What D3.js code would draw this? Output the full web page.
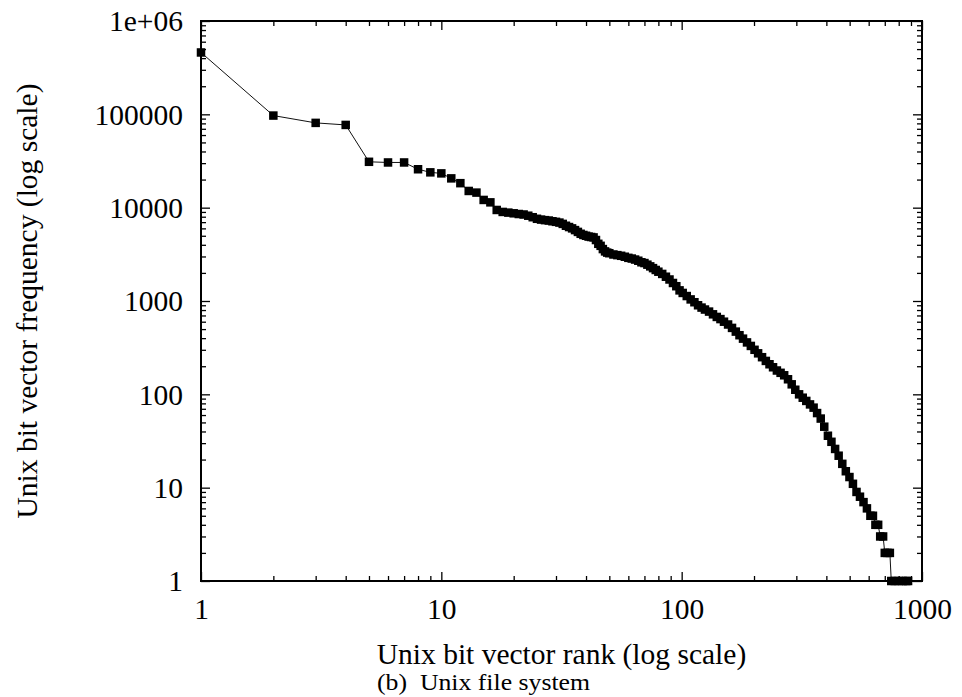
<!DOCTYPE html>
<html>
<head>
<meta charset="utf-8">
<script src="https://cdn.jsdelivr.net/npm/d3@7"></script>
<style>
  body { margin: 0; background: #fff; }
  svg { display: block; font-family: "Liberation Serif", "Times New Roman", serif; }
  .tick text { font-family: "Liberation Serif", "Times New Roman", serif; font-size: 29.5px; fill: #000; }
  .tick line { stroke: #000; stroke-width: 1.3; }
</style>
</head>
<body>
<svg id="chart" width="962" height="697"></svg>
<script>
// rank of each bit vector and how often it occurs
const ranks = [
    1, 2, 3, 4, 5, 6, 7, 8, 9, 10, 11, 12, 13, 14, 15, 16, 17,
    18, 19, 20, 21, 22, 23, 24, 25, 26, 27, 28, 29, 30, 31, 32, 33, 34, 35,
    36, 37, 38, 39, 40, 41, 42, 43, 44, 45, 46, 47, 48, 49, 50, 52, 54, 56,
    58, 60, 62, 64, 66, 68, 70, 72, 74, 76, 78, 80, 83, 86, 89, 92, 95, 98,
    101, 105, 109, 113, 117, 121, 125, 130, 135, 140, 145, 150, 156, 162,
    168, 174, 180, 187, 194, 201, 208, 216, 224, 232, 240, 249, 258, 267,
    277, 287, 297, 308, 319, 330, 342, 354, 366, 379, 392, 406, 420, 435,
    450, 466, 482, 499, 516, 534, 552, 571, 590, 610, 625, 640, 657, 670,
    689, 700, 718, 735, 745, 770, 800, 830, 860, 875
]
const freqs = [
    460000, 97000, 81000, 77000, 31000, 30500, 30500, 25800, 23900, 23300,
    20600, 18300, 15100, 14500, 12100, 11400, 9450,
    9000, 8850, 8700, 8550, 8450, 8200, 7900, 7600, 7450, 7350, 7280, 7150,
    7050, 6920, 6700, 6400, 6200, 6000, 5750, 5500, 5250, 5100, 5000, 4900,
    4850, 4800, 4500, 4100, 3900, 3600, 3400, 3300, 3250, 3150, 3100, 3050,
    2980, 2900, 2850, 2780, 2700, 2600, 2550, 2450, 2350, 2250, 2150, 2060,
    1950, 1820, 1700, 1560, 1440, 1300, 1220, 1130, 1040, 970, 900, 850,
    810, 770, 720, 675, 640, 600, 560, 515, 470, 430, 395, 360, 330, 300,
    275, 250, 228, 210, 195, 180, 170, 160, 145, 128, 112, 100, 92, 85, 78,
    72, 63, 55, 45, 36, 31, 26, 22, 18, 15, 13, 11, 9, 8, 7, 6, 5, 5, 4, 4,
    3, 3, 2, 2, 2, 1, 1, 1, 1, 1, 1
]

const xTicks = [1, 10, 100, 1000]
const xTickLabels = ['1', '10', '100', '1000']
const yTicks = [1, 10, 100, 1000, 10000, 100000, 1000000]
const yTickLabels = ['1', '10', '100', '1000', '10000', '100000', '1e+06']

const X_TITLE = 'Unix bit vector rank (log scale)'
const Y_TITLE = 'Unix bit vector frequency (log scale)'
const CAPTION = '(b)\u00a0 Unix file system'

const LEFT = 201, RIGHT = 922, TOP = 21, BOTTOM = 581
const MAJOR = 9, MINOR = 5
const MARK = 8.5

let svg = d3.select('#chart')

let x = d3.scaleLog().domain([1, 1000]).range([LEFT, RIGHT])
let y = d3.scaleLog().domain([1, 1e6]).range([BOTTOM, TOP])

// minor tick positions 2..9 in every decade
const minorsOf = (lo, hi) => {
    let out = []
    for (let p = lo; p < hi; p *= 10) {
        for (let m = 2; m <= 9; m++) out.push(m * p)
    }
    return out
}
const xMinor = minorsOf(1, 1000)
const yMinor = minorsOf(1, 1e6)

const addAxis = (axis, tx, ty) => {
    let g = svg.append('g')
        .attr('transform', 'translate(' + tx + ',' + ty + ')')
        .call(axis)
    g.attr('font-family', null)
    g.select('.domain').remove()
    return g
}

// major ticks with labels
addAxis(d3.axisBottom(x).tickValues(xTicks).tickSize(-MAJOR).tickPadding(17)
    .tickFormat((d, i) => xTickLabels[i]), 0, BOTTOM)
addAxis(d3.axisLeft(y).tickValues(yTicks).tickSize(-MAJOR).tickPadding(18)
    .tickFormat((d, i) => yTickLabels[i]), LEFT, 0)
    .selectAll('text').attr('dy', '0.33em')

// mirrored major ticks
addAxis(d3.axisTop(x).tickValues(xTicks).tickSize(-MAJOR).tickFormat(''), 0, TOP)
addAxis(d3.axisRight(y).tickValues(yTicks).tickSize(-MAJOR).tickFormat(''), RIGHT, 0)

// minor ticks on all four sides
addAxis(d3.axisBottom(x).tickValues(xMinor).tickSize(-MINOR).tickFormat(''), 0, BOTTOM)
addAxis(d3.axisTop(x).tickValues(xMinor).tickSize(-MINOR).tickFormat(''), 0, TOP)
addAxis(d3.axisLeft(y).tickValues(yMinor).tickSize(-MINOR).tickFormat(''), LEFT, 0)
addAxis(d3.axisRight(y).tickValues(yMinor).tickSize(-MINOR).tickFormat(''), RIGHT, 0)

// frame
svg.append('rect')
    .attr('x', LEFT)
    .attr('y', TOP)
    .attr('width', RIGHT - LEFT)
    .attr('height', BOTTOM - TOP)
    .attr('fill', 'none')
    .attr('stroke', '#000')
    .attr('stroke-width', 2)

let points = ranks.map((r, i) => ({ rank: r, freq: freqs[i] }))

let line = d3.line()
    .x((d) => x(d.rank))
    .y((d) => y(d.freq))

svg.append('path')
    .datum(points)
    .attr('d', line)
    .attr('fill', 'none')
    .attr('stroke', '#111')
    .attr('stroke-width', 1)

svg.append('g')
    .selectAll('rect')
    .data(points)
    .enter().append('rect')
    .attr('x', (d) => x(d.rank) - MARK / 2)
    .attr('y', (d) => y(d.freq) - MARK / 2)
    .attr('width', MARK)
    .attr('height', MARK)
    .attr('fill', '#000')

// titles
svg.append('text')
    .attr('x', (LEFT + RIGHT) / 2)
    .attr('y', 664)
    .attr('text-anchor', 'middle')
    .style('font-size', '29.5px')
    .text(X_TITLE)

svg.append('text')
    .attr('transform', 'translate(37,' + (TOP + BOTTOM) / 2 + ') rotate(-90)')
    .attr('text-anchor', 'middle')
    .style('font-size', '29.5px')
    .text(Y_TITLE)

svg.append('text')
    .attr('x', 377)
    .attr('y', 690)
    .attr('textLength', 213)
    .attr('lengthAdjust', 'spacingAndGlyphs')
    .style('font-size', '23px')
    .text(CAPTION)
</script>
</body>
</html>
